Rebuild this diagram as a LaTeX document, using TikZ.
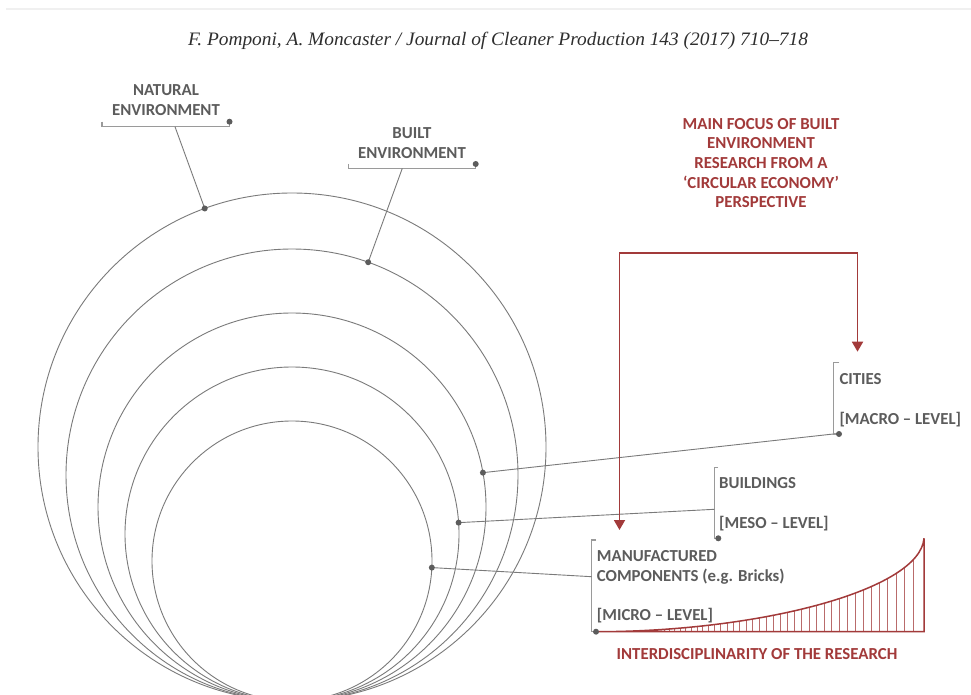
\documentclass[tikz,border=0pt]{standalone}
\usepackage{graphicx}
\usepackage{fontspec}
\setmainfont{Carlito}
\newfontfamily\headfont{Liberation Serif}
\usetikzlibrary{arrows.meta,calc}

\definecolor{ringgray}{HTML}{7A7A7A}
\definecolor{labelgray}{HTML}{5C5C5C}
\definecolor{bracketgray}{HTML}{9A9A9A}
\definecolor{brickred}{HTML}{A23A3A}
\definecolor{headink}{HTML}{2E2E2E}

\begin{document}
\begin{tikzpicture}[x=1pt,y=-1pt,
  ring/.style={draw=ringgray,line width=0.9pt},
  leader/.style={draw=ringgray,line width=0.9pt},
  bracket/.style={draw=bracketgray,line width=1.1pt},
  pin/.style={fill=labelgray},
  lbl/.style={font=\fontsize{16.8}{20}\selectfont\bfseries,text=labelgray,inner sep=0pt},
  redlbl/.style={lbl,text=brickred},
  focus/.style={draw=brickred,line width=1.8pt,
    {Triangle[width=11pt,length=10pt]}-{Triangle[width=11pt,length=10pt]}},
  curveline/.style={draw=brickred,line width=1.5pt},
  hatch/.style={draw=brickred!75,line width=0.8pt}
]
\useasboundingbox (0,0) rectangle (971,695);
\fill[white] (0,0) rectangle (971,695);

% faint rule along the top of the page
\draw[gray!12,line width=2pt] (6,9) -- (971,9);

% running header
\node[anchor=base,inner sep=0pt,text=headink] (head) at (498,46)
  {\resizebox{620pt}{\height}{\headfont\itshape\fontsize{19}{22}\selectfont F. Pomponi, A. Moncaster / Journal of Cleaner Production 143 (2017) 710–718}};

% nested rings, all touching at the bottom
\coordinate (c1) at (292,447);
\coordinate (c2) at (292,475);
\coordinate (c3) at (292,507);
\coordinate (c4) at (292,534);
\coordinate (c5) at (292,561);
\begin{scope}
  \clip (0,0) rectangle (971,695);
  \draw[ring] (c1) circle[radius=254];
  \draw[ring] (c2) circle[radius=226];
  \draw[ring] (c3) circle[radius=194];
  \draw[ring] (c4) circle[radius=167];
  \draw[ring] (c5) circle[radius=140];
\end{scope}

% anchor points on the rings
\coordinate (nat)  at ($(c1)+(-110.1:254)$);
\coordinate (blt)  at ($(c2)+(-70.3:226)$);
\coordinate (city) at ($(c3)+(-10.2:194)$);
\coordinate (bldg) at ($(c4)+(-3.9:167)$);
\coordinate (comp) at ($(c5)+(2.7:140)$);

% --- natural environment label (base anchor = last line)
\node[lbl,align=center,anchor=base] (natlbl) at (166,116) {NATURAL\\ENVIRONMENT};
\coordinate (natL) at (102,121.7);
\coordinate (natR) at (229.5,121.7);
\coordinate (natT) at (175,126.7);
\draw[bracket] (natL) -- (102,126.7) -- (229.5,126.7) -- (natR);
\draw[leader] (natT) -- (nat);

% --- built environment label
\node[lbl,align=center,anchor=base] (bltlbl) at (412,159) {BUILT\\ENVIRONMENT};
\coordinate (bltL) at (348.3,164);
\coordinate (bltR) at (475.7,164);
\coordinate (bltT) at (402.3,168.3);
\draw[bracket] (bltL) -- (348.3,168.3) -- (475.7,168.3) -- (bltR);
\draw[leader] (bltT) -- (blt);

% --- cities label
\node[lbl,align=left,anchor=base west] (citylbl) at (839.3,424) {CITIES\\[20pt]{[MACRO – LEVEL]}};
\coordinate (cityTop) at (839.3,362.7);
\coordinate (cityBot) at (839,434);
\coordinate (cityT) at (833.3,434);
\draw[bracket] (cityTop) -- (833.3,362.7) -- (833.3,434) -- (cityBot);
\draw[leader] (city) -- (cityT);

% --- buildings label
\node[lbl,align=left,anchor=base west] (bldglbl) at (719,528) {BUILDINGS\\[20pt]{[MESO – LEVEL]}};
\coordinate (bldgTop) at (718,467.7);
\coordinate (bldgBot) at (718.3,538.3);
\coordinate (bldgT) at (714.3,509.3);
\draw[bracket] (bldgTop) -- (714.3,467.7) -- (714.3,538.3) -- (bldgBot);
\draw[leader] (bldg) -- (bldgT);

% --- manufactured components label
\node[lbl,align=left,anchor=base west] (complbl) at (596.7,620)
  {MANUFACTURED\\COMPONENTS (e.g. Bricks)\\[19pt]{[MICRO – LEVEL]}};
\coordinate (compTop) at (596,540);
\coordinate (compBot) at (596,631.7);
\coordinate (compT) at (591.7,576.7);
\draw[bracket] (compTop) -- (591.7,540) -- (591.7,631.7) -- (compBot);
\draw[leader] (comp) -- (compT);

% --- main focus of research
\node[redlbl,align=center,anchor=base,font=\fontsize{16.8}{19.6}\selectfont\bfseries] (focuslbl) at (761,207.7)
  {MAIN FOCUS OF BUILT\\ENVIRONMENT\\RESEARCH FROM A\\‘CIRCULAR ECONOMY’\\PERSPECTIVE};
\coordinate (focusL) at (619.5,252.7);
\coordinate (focusR) at (857.5,252.7);
\coordinate (tipL) at (619.5,530);
\coordinate (tipR) at (857.5,351.7);
\draw[focus] (tipL) -- (focusL) -- (focusR) -- (tipR);

% --- interdisciplinarity curve with hatching
\coordinate (curveEnd) at (924,538.3);
\coordinate (curveFoot) at (924,631.7);
\begin{scope}
  \clip (compBot) .. controls (760,631.7) and (920,590) .. (curveEnd) -- (curveFoot) -- cycle;
  \foreach \i in {0,...,36}{
    \pgfmathsetmacro{\hx}{664+5.2*\i+0.048*\i*\i}
    \draw[hatch] (\hx,632) -- (\hx,530);
  }
\end{scope}
\draw[curveline] (compBot) .. controls (760,631.7) and (920,590) .. (curveEnd) -- (curveFoot) -- (compBot);

\node[redlbl,anchor=base] (interlbl) at (757,659) {INTERDISCIPLINARITY OF THE RESEARCH};

% pins drawn last so they sit on top of the lines
\foreach \p in {nat,blt,city,bldg,comp,natR,bltR,cityBot,bldgBot,compBot}{
  \fill[pin] (\p) circle[radius=3];
}
\end{tikzpicture}
\end{document}
